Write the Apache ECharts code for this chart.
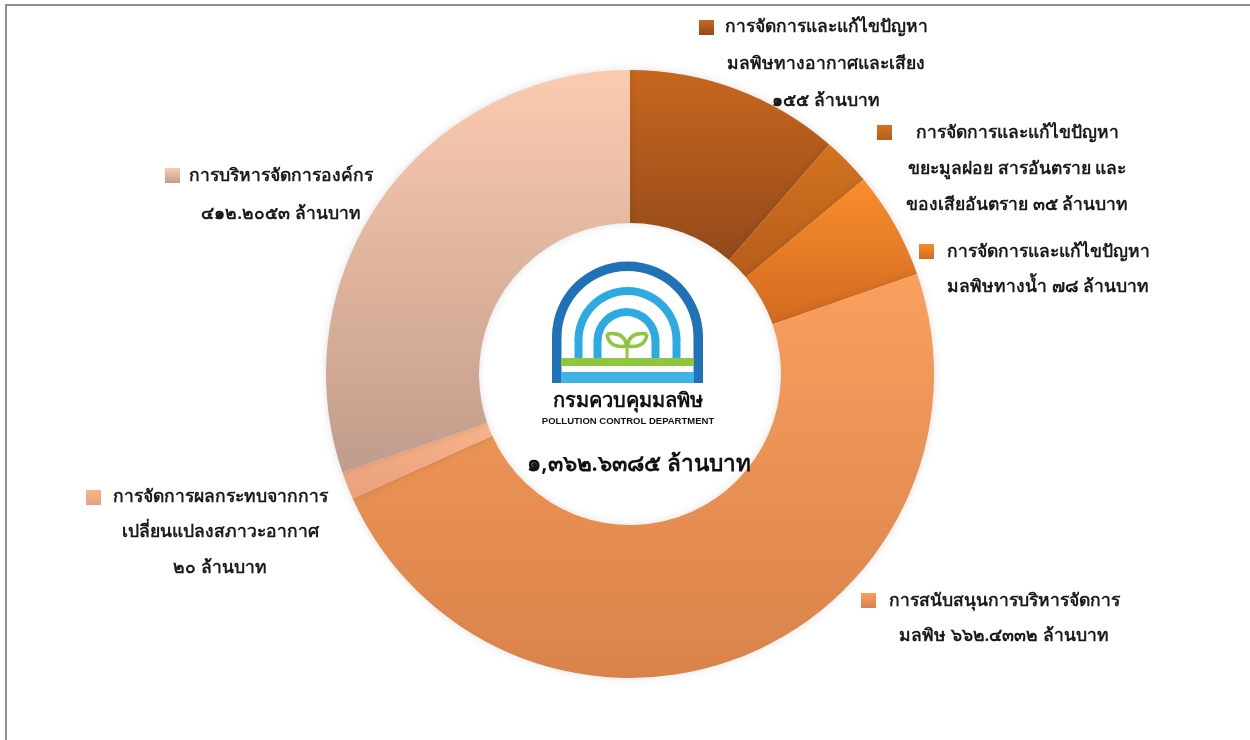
<!DOCTYPE html>
<html>
<head>
<meta charset="utf-8">
<title>งบประมาณ กรมควบคุมมลพิษ</title>
<script src="https://cdn.jsdelivr.net/npm/echarts@6/dist/echarts.min.js"></script>
<style>
	html, body { margin: 0; padding: 0; background: #fff; }
	#main { width: 1250px; height: 740px; }
</style>
</head>
<body>
<div id="main"></div>
<script>
	// ข้อมูล (ล้านบาท)
	const categories = [
		'การจัดการและแก้ไขปัญหามลพิษทางอากาศและเสียง',
		'การจัดการและแก้ไขปัญหาขยะมูลฝอย สารอันตราย และของเสียอันตราย',
		'การจัดการและแก้ไขปัญหามลพิษทางน้ำ',
		'การสนับสนุนการบริหารจัดการมลพิษ',
		'การจัดการผลกระทบจากการเปลี่ยนแปลงสภาวะอากาศ',
		'การบริหารจัดการองค์กร'
	]
	const values = [155, 35, 78, 662.4332, 20, 412.2053]
	// ข้อความป้ายตามภาพ
	const labelLines = [
		['การจัดการและแก้ไขปัญหา', 'มลพิษทางอากาศและเสียง', '๑๕๕ ล้านบาท'],
		['การจัดการและแก้ไขปัญหา', 'ขยะมูลฝอย สารอันตราย และ', 'ของเสียอันตราย ๓๕ ล้านบาท'],
		['การจัดการและแก้ไขปัญหา', 'มลพิษทางน้ำ ๗๘ ล้านบาท'],
		['การสนับสนุนการบริหารจัดการ', 'มลพิษ ๖๖๒.๔๓๓๒ ล้านบาท'],
		['การจัดการผลกระทบจากการ', 'เปลี่ยนแปลงสภาวะอากาศ', '๒๐ ล้านบาท'],
		['การบริหารจัดการองค์กร', '๔๑๒.๒๐๕๓ ล้านบาท']
	]
	const totalText = '๑,๓๖๒.๖๓๘๕ ล้านบาท'
	const colorsTop = ['#c7671f', '#d2731f', '#f88e2c', '#f9a05e', '#f7b48c', '#fbcbb0']
	const colorsBottom = ['#94491a', '#b75d1b', '#d3691f', '#d9824a', '#e9a07a', '#c19c8b']

	const FONT = '"Noto Sans", "DejaVu Sans", sans-serif'

	// 标签位置 (layout)
	const labelPos = [
		{ sq: [699, 20], cx: 826, y: 27, lh: 37 },
		{ sq: [877, 125], cx: 1017, y: 133, lh: 36 },
		{ sq: [919, 244], cx: 1048, y: 252, lh: 35 },
		{ sq: [861, 593], cx: 1004, y: 601, lh: 35 },
		{ sq: [86, 490], cx: 220, y: 497, lh: 35.5 },
		{ sq: [165, 168], cx: 281, y: 176, lh: 38 }
	]

	function grad(i) {
		return new echarts.graphic.LinearGradient(0, 0, 0, 1, [
			{ offset: 0, color: colorsTop[i] },
			{ offset: 1, color: colorsBottom[i] }
		])
	}

	const chartInstane = echarts.init(document.getElementById('main'))

	const graphics = [
		// กรอบ
		{
			type: 'polyline',
			shape: { points: [[6, 740], [6, 5], [1250, 5]] },
			style: { stroke: '#8f8f8f', lineWidth: 2, fill: null }
		}
	]

	labelLines.forEach((lines, i) => {
		const p = labelPos[i]
		graphics.push({
			type: 'rect',
			shape: { x: p.sq[0], y: p.sq[1], width: 15, height: 15 },
			style: { fill: grad(i) }
		})
		graphics.push({
			type: 'text',
			x: p.cx, y: p.y - p.lh / 2,
			style: {
				text: lines.join('\n'),
				font: '600 17.5px ' + FONT,
				fill: '#1a1a1a',
				align: 'center',
				verticalAlign: 'top',
				lineHeight: p.lh
			}
		})
	})

	// โลโก้
	const green = '#8dc63f'
	const logo = [
		{ type: 'sector', shape: { cx: 627.5, cy: 337, r0: 66, r: 75.5, startAngle: Math.PI, endAngle: Math.PI * 2 }, style: { fill: '#1f72b8' } },
		{ type: 'rect', shape: { x: 552, y: 336, width: 9.5, height: 47 }, style: { fill: '#1f72b8' } },
		{ type: 'rect', shape: { x: 693.5, y: 336, width: 9.5, height: 47 }, style: { fill: '#1f72b8' } },
		{ type: 'sector', shape: { cx: 627.5, cy: 340, r0: 45, r: 53, startAngle: Math.PI, endAngle: Math.PI * 2 }, style: { fill: '#2eaae2' } },
		{ type: 'rect', shape: { x: 574.5, y: 339, width: 8, height: 20 }, style: { fill: '#2eaae2' } },
		{ type: 'rect', shape: { x: 672.5, y: 339, width: 8, height: 20 }, style: { fill: '#2eaae2' } },
		{ type: 'sector', shape: { cx: 626.5, cy: 341, r0: 25, r: 33, startAngle: Math.PI, endAngle: Math.PI * 2 }, style: { fill: '#2eaae2' } },
		{ type: 'rect', shape: { x: 593.5, y: 340, width: 8, height: 19 }, style: { fill: '#2eaae2' } },
		{ type: 'rect', shape: { x: 651.5, y: 340, width: 8, height: 19 }, style: { fill: '#2eaae2' } },
		{ type: 'rect', shape: { x: 561, y: 358, width: 133, height: 8 }, style: { fill: green } },
		{ type: 'rect', shape: { x: 561, y: 372, width: 133, height: 11 }, style: { fill: '#3fb3e6' } },
		{ type: 'rect', shape: { x: 625.5, y: 343, width: 3, height: 16 }, style: { fill: green } },
		// ใบไม้
		{ type: 'bezierCurve', shape: { x1: 627, y1: 346, x2: 607, y2: 334, cpx1: 609, cpy1: 349 }, style: { stroke: green, lineWidth: 3.5, fill: null } },
		{ type: 'bezierCurve', shape: { x1: 627, y1: 346, x2: 607, y2: 334, cpx1: 624, cpy1: 331 }, style: { stroke: green, lineWidth: 3.5, fill: null } },
		{ type: 'bezierCurve', shape: { x1: 627, y1: 346, x2: 647, y2: 334, cpx1: 645, cpy1: 349 }, style: { stroke: green, lineWidth: 3.5, fill: null } },
		{ type: 'bezierCurve', shape: { x1: 627, y1: 346, x2: 647, y2: 334, cpx1: 630, cpy1: 331 }, style: { stroke: green, lineWidth: 3.5, fill: null } },
		{ type: 'text', x: 628, y: 401, style: { text: 'กรมควบคุมมลพิษ', font: 'bold 20px ' + FONT, fill: '#111', align: 'center', verticalAlign: 'middle' } },
		{ type: 'text', x: 628, y: 421, style: { text: 'POLLUTION CONTROL DEPARTMENT', font: 'bold 9.5px "Liberation Sans", Arial, sans-serif', fill: '#111', align: 'center', verticalAlign: 'middle' } },
		{ type: 'text', x: 639, y: 465, style: { text: totalText, font: '600 22.5px ' + FONT, fill: '#111', align: 'center', verticalAlign: 'middle' } }
	]
	logo.forEach(g => { graphics.push(g) })
	graphics.forEach(g => { g.silent = true; g.z = 100 })

	const option = {
		backgroundColor: '#ffffff',
		animation: false,
		series: [{
			type: 'pie',
			center: [630, 374],
			radius: [151, 304],
			startAngle: 90,
			clockwise: true,
			label: { show: false },
			labelLine: { show: false },
			itemStyle: { borderWidth: 0, shadowBlur: 8, shadowColor: 'rgba(0,0,0,0.12)' },
			emphasis: { disabled: true },
			data: categories.map((name, i) => ({
				name: name,
				value: values[i],
				itemStyle: { color: grad(i) }
			}))
		}],
		graphic: { elements: graphics }
	}
	chartInstane.setOption(option)
</script>
</body>
</html>
